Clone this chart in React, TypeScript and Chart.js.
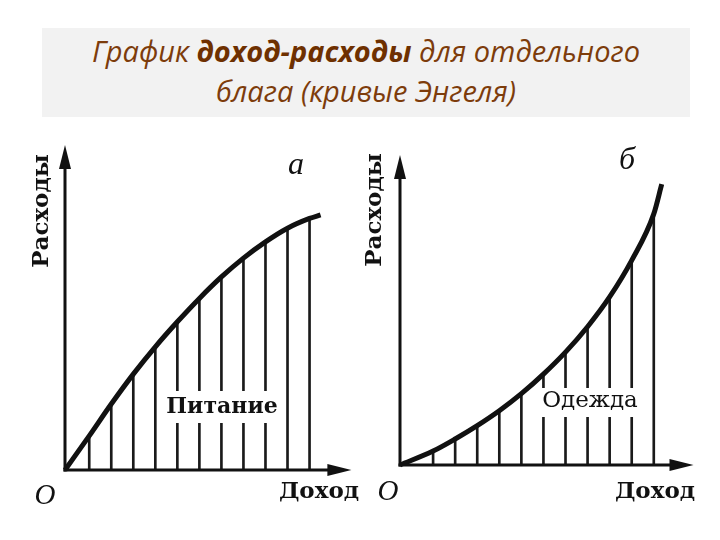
import React, { useEffect, useRef } from "react";
import { Chart, registerables } from "chart.js";

Chart.register(...registerables);

// ---- Data ----
// Panel "а" — Питание (food): spending grows more slowly than income
const FOOD_INCOME = [0, 1.1, 2.1, 3.1, 4.1, 5.1, 6.1, 7.1, 8.1, 9.1, 10.1, 11.1, 11.6];
const FOOD_SPENDING = [0, 10.5, 20.3, 29.5, 37.9, 45.6, 52.8, 59.4, 65.2, 70.2, 74.4, 77.4, 78.5];
// Panel "б" — Одежда (clothing): spending grows faster than income
const CLOTH_INCOME = [0, 1.5, 2.5, 3.5, 4.5, 5.5, 6.5, 7.5, 8.5, 9.5, 10.5, 11.5, 11.86];
const CLOTH_SPENDING = [0, 4.5, 8.4, 12.7, 17.5, 23.0, 29.3, 36.4, 44.6, 54.2, 66.0, 81.0, 90.6];

const AXIS_X_LABEL = "Доход";
const AXIS_Y_LABEL = "Расходы";
const ORIGIN_LABEL = "O";
const PANEL_LETTERS = ["а", "б"];
const AREA_LABELS = ["Питание", "Одежда"];

const INK = "#111111";

const sketchPlugin = {
  id: "sketch",
  afterDatasetDraw(chart: any, args: any, opts: any) {
    if (args.index !== 0 || !opts.gap) return;
    const ctx = chart.ctx;
    const g = opts.gap;
    ctx.save();
    ctx.fillStyle = "#ffffff";
    ctx.fillRect(g.x0, g.y0, g.x1 - g.x0, g.y1 - g.y0);
    ctx.restore();
  },
  afterDraw(chart: any, _args: any, opts: any) {
    const ctx = chart.ctx;
    const xs = chart.scales.x;
    const ys = chart.scales.y;
    const ox = xs.getPixelForValue(0);
    const oy = ys.getPixelForValue(0);
    const tx = xs.getPixelForValue(xs.max);
    const ty = ys.getPixelForValue(ys.max);
    ctx.save();
    ctx.strokeStyle = INK;
    ctx.fillStyle = INK;
    ctx.lineWidth = 3;
    ctx.lineCap = "butt";
    // y axis
    ctx.beginPath();
    ctx.moveTo(ox, oy + 1.5);
    ctx.lineTo(ox, ty + 10);
    ctx.stroke();
    // x axis
    ctx.beginPath();
    ctx.moveTo(ox - 1.5, oy);
    ctx.lineTo(tx - 10, oy);
    ctx.stroke();
    // arrowheads
    const aL = opts.arrowLen, aW = opts.arrowW;
    ctx.beginPath();
    ctx.moveTo(ox, ty);
    ctx.lineTo(ox - aW / 2, ty + aL);
    ctx.lineTo(ox + aW / 2, ty + aL);
    ctx.closePath();
    ctx.fill();
    ctx.beginPath();
    ctx.moveTo(tx, oy);
    ctx.lineTo(tx - aL, oy - aW / 2);
    ctx.lineTo(tx - aL, oy + aW / 2);
    ctx.closePath();
    ctx.fill();
    // texts
    ctx.textAlign = "center";
    ctx.textBaseline = "middle";
    for (const t of opts.texts) {
      ctx.save();
      ctx.font = t.font;
      ctx.fillStyle = INK;
      ctx.translate(t.x, t.y);
      if (t.rot) ctx.rotate(-Math.PI / 2);
      ctx.fillText(t.text, 0, 0);
      ctx.restore();
    }
    ctx.restore();
  },
};

type PanelProps = {
  left: number;
  xs: number[];
  ys: number[];
  xMax: number;
  padding: { left: number; right: number; top: number; bottom: number };
  gap: { x0: number; x1: number; y0: number; y1: number };
  texts: any[];
};

function Panel(p: PanelProps) {
  const ref = useRef<HTMLCanvasElement | null>(null);
  useEffect(() => {
    if (!ref.current) return;
    const curve = p.xs.map((x, i) => ({ x, y: p.ys[i] }));
    const hatch = curve.slice(1, -1);
    const chart = new Chart(ref.current, {
      type: "bar",
      data: {
        datasets: [
          {
            type: "bar",
            data: hatch as any,
            backgroundColor: "#1a1a1a",
            borderWidth: 0,
            barThickness: 2,
            order: 2,
          } as any,
          {
            type: "line",
            data: curve as any,
            borderColor: INK,
            borderWidth: 5,
            pointRadius: 0,
            cubicInterpolationMode: "monotone",
            fill: false,
            clip: false,
            order: 1,
          } as any,
        ],
      },
      options: {
        animation: false,
        responsive: false,
        events: [],
        layout: { padding: p.padding },
        scales: {
          x: { type: "linear", min: 0, max: p.xMax, offset: false, display: false },
          y: { type: "linear", min: 0, max: 100, display: false },
        },
        plugins: {
          legend: { display: false },
          tooltip: { enabled: false },
          title: { display: false },
          sketch: { gap: p.gap, texts: p.texts, arrowLen: 24, arrowW: 12 },
        } as any,
      },
      plugins: [sketchPlugin as any],
    });
    return () => chart.destroy();
  }, []);
  return (
    <canvas
      ref={ref}
      width={360}
      height={400}
      style={{ position: "absolute", left: p.left, top: 130, width: 360, height: 400 }}
    />
  );
}

const LABEL_FONT = "bold 23px 'DejaVu Serif'";
const ITALIC_FONT = "italic 29px 'Liberation Serif'";
const LETTER_FONT = "italic 32px 'Liberation Serif'";

export default function App() {
  return (
    <div
      style={{
        position: "fixed",
        left: 0,
        top: 0,
        width: 720,
        height: 540,
        background: "#ffffff",
        overflow: "hidden",
      }}
    >
      <div
        style={{
          position: "absolute",
          left: 42,
          top: 28,
          width: 648,
          height: 89,
          background: "#f2f2f2",
          boxSizing: "border-box",
          paddingTop: 3,
          textAlign: "center",
          fontFamily: "'Open Sans', sans-serif",
          fontStyle: "italic",
          fontSize: 29,
          lineHeight: "40px",
          color: "#7d3c0b",
        }}
      >
        График <b style={{ color: "#6e3000" }}>доход-расходы</b> для отдельного
        <br />
        блага (кривые Энгеля)
      </div>
      <Panel
        left={0}
        xs={FOOD_INCOME}
        ys={FOOD_SPENDING}
        xMax={13}
        padding={{ left: 65, right: 8.6, top: 15, bottom: 60 }}
        gap={{ x0: 165, x1: 280, y0: 261, y1: 293 }}
        texts={[
          { text: AXIS_Y_LABEL, x: 42, y: 81, font: LABEL_FONT, rot: true },
          { text: AXIS_X_LABEL, x: 319, y: 362, font: LABEL_FONT },
          { text: ORIGIN_LABEL, x: 45, y: 366, font: ITALIC_FONT },
          { text: PANEL_LETTERS[0], x: 296, y: 36, font: LETTER_FONT },
          { text: AREA_LABELS[0], x: 222, y: 277, font: "bold 22px 'DejaVu Serif'" },
        ]}
      />
      <Panel
        left={360}
        xs={CLOTH_INCOME}
        ys={CLOTH_SPENDING}
        xMax={13.3}
        padding={{ left: 40, right: 26.5, top: 25, bottom: 65 }}
        gap={{ x0: 178, x1: 280, y0: 258, y1: 287 }}
        texts={[
          { text: AXIS_Y_LABEL, x: 15, y: 80, font: LABEL_FONT, rot: true },
          { text: AXIS_X_LABEL, x: 295, y: 362, font: LABEL_FONT },
          { text: ORIGIN_LABEL, x: 28, y: 362, font: ITALIC_FONT },
          { text: PANEL_LETTERS[1], x: 267, y: 31, font: LETTER_FONT },
          { text: AREA_LABELS[1], x: 230, y: 271, font: "23px 'DejaVu Serif'" },
        ]}
      />
    </div>
  );
}
